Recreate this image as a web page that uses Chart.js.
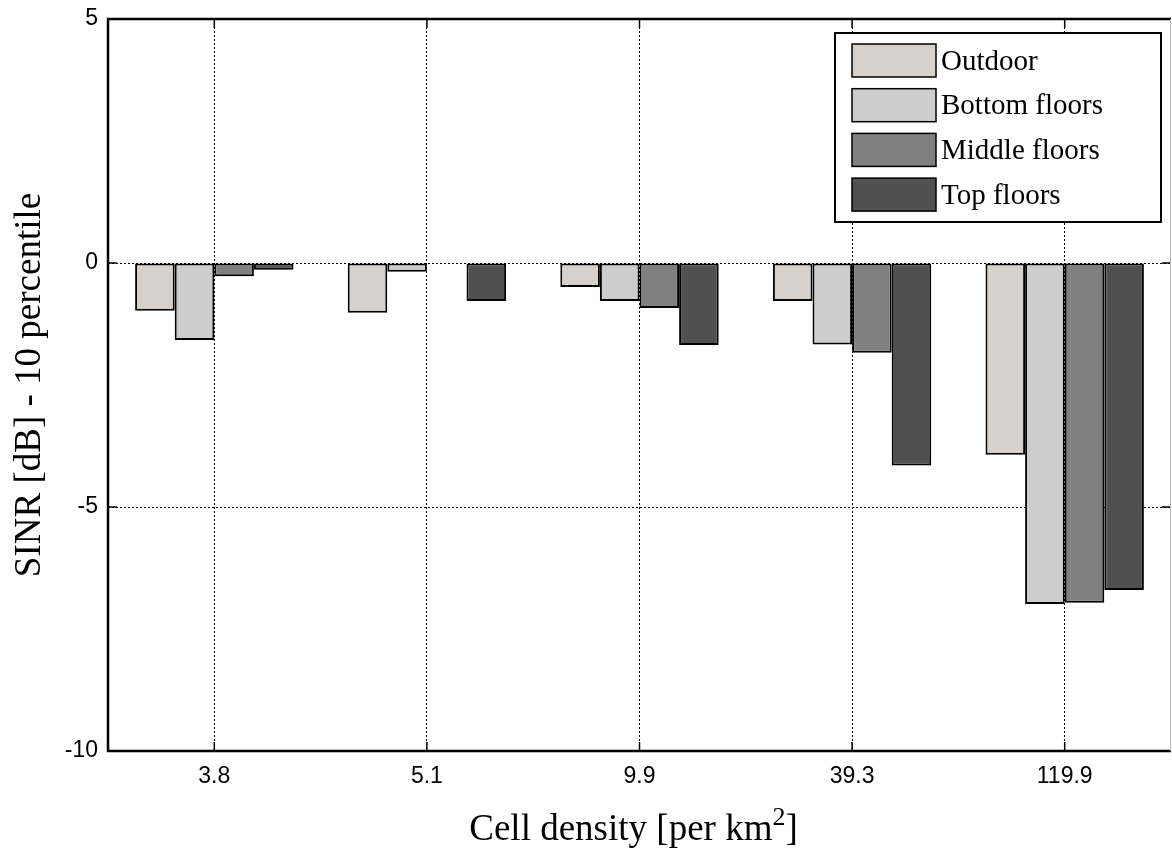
<!DOCTYPE html>
<html>
<head>
<meta charset="utf-8">
<script src="https://cdn.jsdelivr.net/npm/chart.js@4/dist/chart.umd.min.js"></script>
<style>
  html, body { margin: 0; padding: 0; background: #fff; }
  #wrap { width: 1172px; height: 848px; position: relative; }
</style>
</head>
<body>
<div id="wrap"><canvas id="myChart" width="1172" height="848"></canvas></div>
<script>
// values (SINR 10th percentile, dB)
const categories = ['3.8', '5.1', '9.9', '39.3', '119.9']
const seriesNames = ['Outdoor', 'Bottom floors', 'Middle floors', 'Top floors']
const outdoor = [-0.98, -1.02, -0.49, -0.78, -3.93]
const bottomFloors = [-1.58, -0.18, -0.78, -1.67, -6.99]
const middleFloors = [-0.27, -0.01, -0.92, -1.84, -6.96]
const topFloors = [-0.14, -0.78, -1.68, -4.15, -6.70]
const yTicks = [5, 0, -5, -10]

const colors = ['#d6d1ca', '#cdcdcd', '#808080', '#505050']
const serif = "'Liberation Serif', 'Times New Roman', serif"
const sans = "'Liberation Sans', Arial, sans-serif"

function makeSet(i, values) {
    return {
        label: seriesNames[i],
        data: values,
        backgroundColor: colors[i],
        borderColor: '#000',
        borderWidth: 2,
        borderSkipped: false,
        categoryPercentage: 0.745,
        barPercentage: 1.0
    }
}

// box, inward ticks, legend and x title drawn like the MATLAB figure
const matlabLook = {
    id: 'matlabLook',
    afterDatasetsDraw(chart) {
        const ctx = chart.ctx
        const a = chart.chartArea
        const x = chart.scales.x
        const y = chart.scales.y
        const tl = 9
        ctx.save()
        ctx.strokeStyle = '#000'
        ctx.lineWidth = 1.5
        ctx.beginPath()
        categories.forEach((c, i) => {
            const px = x.getPixelForValue(i)
            ctx.moveTo(px, a.bottom); ctx.lineTo(px, a.bottom - tl)
            ctx.moveTo(px, a.top); ctx.lineTo(px, a.top + tl)
        })
        yTicks.forEach(v => {
            const py = y.getPixelForValue(v)
            ctx.moveTo(a.left, py); ctx.lineTo(a.left + tl, py)
            ctx.moveTo(a.right, py); ctx.lineTo(a.right - tl, py)
        })
        ctx.stroke()

        // axes box
        ctx.lineWidth = 2.5
        ctx.beginPath()
        ctx.moveTo(a.right, a.top)
        ctx.lineTo(a.left, a.top)
        ctx.lineTo(a.left, a.bottom)
        ctx.lineTo(a.right, a.bottom)
        ctx.stroke()
        ctx.strokeStyle = '#bbb'
        ctx.lineWidth = 1
        ctx.beginPath()
        ctx.moveTo(a.right - 0.5, a.top)
        ctx.lineTo(a.right - 0.5, a.bottom)
        ctx.stroke()

        // legend
        const lx = a.right - 336, ly = a.top + 14, lw = 326, lh = 189
        ctx.fillStyle = '#fff'
        ctx.fillRect(lx, ly, lw, lh)
        ctx.strokeStyle = '#000'
        ctx.lineWidth = 2
        ctx.strokeRect(lx, ly, lw, lh)
        ctx.font = '29px ' + serif
        ctx.textBaseline = 'middle'
        chart.data.datasets.forEach((ds, i) => {
            const ry = ly + 11 + i * 44.7
            ctx.fillStyle = ds.backgroundColor
            ctx.fillRect(lx + 17, ry, 84, 33)
            ctx.strokeStyle = '#000'
            ctx.lineWidth = 1.5
            ctx.strokeRect(lx + 17, ry, 84, 33)
            ctx.fillStyle = '#000'
            ctx.fillText(ds.label, lx + 106, ry + 18)
        })

        // x axis title with superscript
        const main = 'Cell density [per km'
        ctx.font = '37px ' + serif
        const w1 = ctx.measureText(main).width
        ctx.font = '26px ' + serif
        const w2 = ctx.measureText('2').width
        ctx.font = '37px ' + serif
        const w3 = ctx.measureText(']').width
        let tx = (a.left + a.right) / 2 - 6 - (w1 + w2 + w3) / 2
        const ty = 840
        ctx.textBaseline = 'alphabetic'
        ctx.fillText(main, tx, ty)
        tx += w1
        ctx.font = '26px ' + serif
        ctx.fillText('2', tx, ty - 15)
        tx += w2
        ctx.font = '37px ' + serif
        ctx.fillText(']', tx, ty)
        ctx.restore()
    }
}

const config = {
    type: 'bar',
    data: {
        labels: categories,
        datasets: [
            makeSet(0, outdoor),
            makeSet(1, bottomFloors),
            makeSet(2, middleFloors),
            makeSet(3, topFloors)
        ]
    },
    options: {
        responsive: false,
        animation: false,
        devicePixelRatio: 1,
        layout: { padding: { top: 19, right: 1, left: 0, bottom: 0 } },
        plugins: {
            legend: { display: false },
            tooltip: { enabled: false }
        },
        scales: {
            x: {
                offset: true,
                grid: { offset: false, color: '#000', lineWidth: 1, drawTicks: false },
                border: { display: false, dash: [2, 2] },
                ticks: { color: '#000', font: { family: sans, size: 23 }, padding: 12 },
                afterFit: (scale) => { scale.height = 97 }
            },
            y: {
                min: -10,
                max: 5,
                grid: { color: '#000', lineWidth: 1, drawTicks: false },
                border: { display: false, dash: [2, 2] },
                ticks: {
                    stepSize: 5,
                    color: '#000',
                    font: { family: sans, size: 23 },
                    padding: 10
                },
                title: {
                    display: true,
                    text: 'SINR [dB] - 10 percentile',
                    color: '#000',
                    font: { family: serif, size: 37 },
                    padding: { top: 8, bottom: 6 }
                },
                afterFit: (scale) => {
                    scale.width = 108
                    scale.paddingTop = 0
                    scale.paddingBottom = 0
                }
            }
        }
    },
    plugins: [matlabLook]
}

var chart = new Chart(document.getElementById('myChart'), config)
</script>
</body>
</html>
